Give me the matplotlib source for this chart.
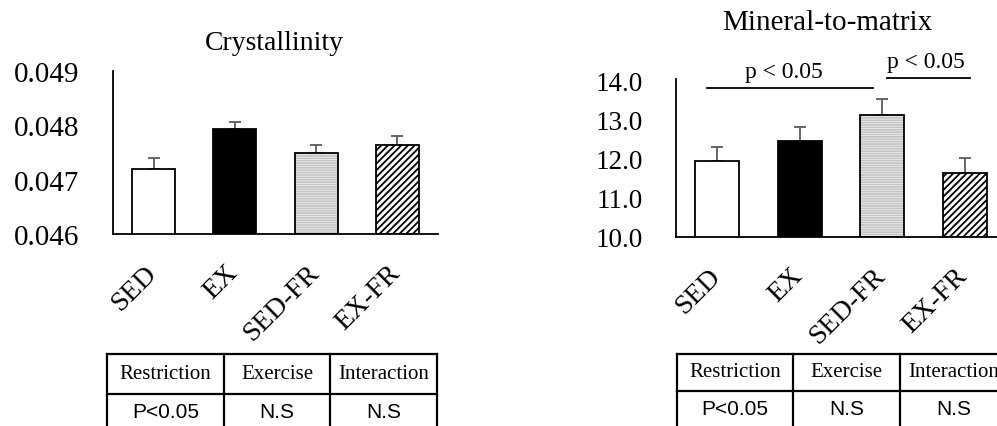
import matplotlib
matplotlib.use("Agg")
import matplotlib.pyplot as plt
from matplotlib.transforms import ScaledTranslation
from matplotlib.lines import Line2D

# ---------------- data ----------------
groups = ["SED", "EX", "SED-FR", "EX-FR"]
cryst_mean = [0.04720, 0.04793, 0.04749, 0.04764]
cryst_err = [0.00020, 0.00013, 0.00015, 0.00017]
mtm_mean = [11.95, 12.46, 13.13, 11.64]
mtm_err = [0.36, 0.36, 0.41, 0.38]
cryst_ticks = [0.046, 0.047, 0.048, 0.049]
cryst_ticklabels = ["0.046", "0.047", "0.048", "0.049"]
mtm_ticks = [10, 11, 12, 13, 14]
mtm_ticklabels = ["10.0", "11.0", "12.0", "13.0", "14.0"]
table_header = ["Restriction", "Exercise", "Interaction"]
cryst_stats = ["P<0.05", "N.S", "N.S"]
mtm_stats = ["P<0.05", "N.S", "N.S"]
sig_label = "p < 0.05"

SERIF = ["Liberation Serif", "DejaVu Serif"]
SANS = ["Liberation Sans", "DejaVu Sans"]
plt.rcParams["font.family"] = SERIF
plt.rcParams["hatch.linewidth"] = 1.3

W, H = 997, 427
fig = plt.figure(figsize=(W / 100, H / 100), dpi=100)

def px_rect(x0, ytop, x1, ybot):
    return [x0 / W, 1 - ybot / H, (x1 - x0) / W, (ybot - ytop) / H]

styles = [
    dict(face="white", hatch=None, hcol=None),
    dict(face="black", hatch=None, hcol=None),
    dict(face="white", hatch="-------", hcol="#c4c4c4"),
    dict(face="white", hatch="/////", hcol="black"),
]

def draw_panel(ax, means, errs, ylim, ticks, ticklabels, yfs):
    x = list(range(len(groups)))
    for i, (m, s) in enumerate(zip(means, styles)):
        if s["hatch"]:
            ax.bar(i, m - ylim[0], bottom=ylim[0], width=0.53, color=s["face"],
                   edgecolor=s["hcol"], hatch=s["hatch"], linewidth=0, zorder=2)
            ax.bar(i, m - ylim[0], bottom=ylim[0], width=0.53, fill=False,
                   edgecolor="black", linewidth=1.3, zorder=3)
        else:
            ax.bar(i, m - ylim[0], bottom=ylim[0], width=0.53, color=s["face"],
                   edgecolor="black", linewidth=1.3, zorder=3)
    ax.errorbar(x, means, yerr=[[0] * len(errs), errs], fmt="none",
                ecolor="#5a5a5a", elinewidth=1.3, capsize=4, capthick=1.3, zorder=1)
    ax.set_xlim(-0.5, len(groups) - 0.5)
    ax.set_ylim(*ylim)
    ax.set_yticks(ticks)
    ax.set_yticklabels(ticklabels, fontsize=yfs)
    ax.set_xticks(x)
    ax.set_xticklabels(groups, fontsize=20, rotation=45, ha="right",
                       va="center", rotation_mode="anchor")
    ax.tick_params(axis="y", length=0, pad=24)
    ax.tick_params(axis="x", length=0, pad=25)
    for lab in ax.get_xticklabels():
        lab.set_transform(lab.get_transform() +
                          ScaledTranslation(-1 / 100, 0, fig.dpi_scale_trans))
    for sp in ["top", "right"]:
        ax.spines[sp].set_visible(False)
    for sp in ["left", "bottom"]:
        ax.spines[sp].set_linewidth(1.3)
        ax.spines[sp].set_color("black")
    ax.set_facecolor("none")

# left panel
axL = fig.add_axes(px_rect(113, 72, 438, 235))
draw_panel(axL, cryst_mean, cryst_err, (0.046, 0.049), cryst_ticks, cryst_ticklabels, 21)
fig.text(274 / W, 1 - 43 / H, "Crystallinity", ha="center", va="center", fontsize=20)

# right panel
axR = fig.add_axes(px_rect(676, 80, 1006, 238))
draw_panel(axR, mtm_mean, mtm_err, (10, 14.05), mtm_ticks, mtm_ticklabels, 19.5)
fig.text(827 / W, 1 - 23 / H, "Mineral-to-matrix", ha="center", va="center", fontsize=21)

# significance annotations
axR.plot([-0.124, 1.89], [13.82, 13.82], color="black", lw=1.3, clip_on=False)
axR.text(0.81, 14.23, sig_label, ha="center", va="center", fontsize=17)
axR.plot([2.06, 3.06], [14.08, 14.08], color="black", lw=1.3, clip_on=False)
axR.text(2.53, 14.49, sig_label, ha="center", va="center", fontsize=17)

# tables
def draw_table(xs, ytop, ysep, ybot, ytxt1, ytxt2, stats):
    def hline(x0, x1, y):
        fig.add_artist(Line2D([x0 / W, x1 / W], [1 - y / H, 1 - y / H],
                              color="black", lw=1.6))
    def vline(x, y0, y1):
        fig.add_artist(Line2D([x / W, x / W], [1 - y0 / H, 1 - y1 / H],
                              color="black", lw=1.6))
    hline(xs[0], xs[-1], ytop)
    hline(xs[0], xs[-1], ysep)
    for xv in xs:
        vline(xv, ytop, ybot)
    for j in range(3):
        cx = (xs[j] + xs[j + 1]) / 2
        fig.text(cx / W, 1 - ytxt1 / H, table_header[j], ha="center", va="center",
                 fontsize=15, family=SERIF)
        fig.text(cx / W, 1 - ytxt2 / H, stats[j], ha="center", va="center",
                 fontsize=15, family=SANS)

draw_table([107, 224, 330, 437], 355, 395, 440, 375, 413, cryst_stats)
draw_table([677, 793, 900, 1007], 355, 392, 440, 373, 410, mtm_stats)

fig.savefig("out.png", dpi=100, facecolor="white")
